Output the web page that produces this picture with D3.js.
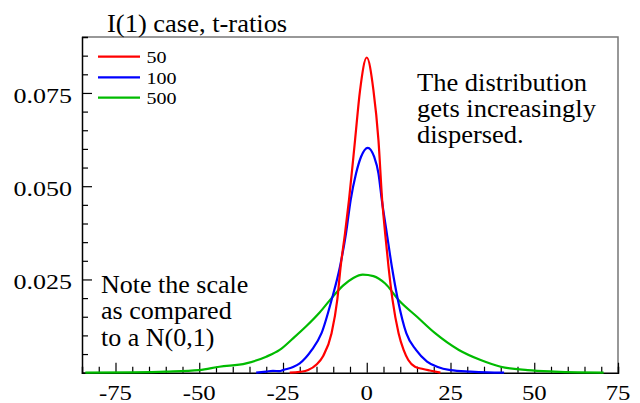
<!DOCTYPE html>
<html>
<head>
<meta charset="utf-8">
<script src="https://cdn.jsdelivr.net/npm/d3@7"></script>
<style>
  html, body { margin: 0; padding: 0; background: #fff; }
  svg { display: block; }
  svg text { font-family: "Liberation Serif", "Times New Roman", Times, "DejaVu Serif", serif; }
</style>
</head>
<body>
<svg id="chart" width="640" height="403"></svg>
<script>
// ---------- data ----------
const seriesNames = ["50", "100", "500"];
const seriesColors = ["#ff0000", "#0000ff", "#00bb00"];

const x50 = [-23, -20, -17.5, -15, -13, -10.5, -8.8, -7.8, -6.5, -5.3, -3.5, -2.0, 0, 2.0, 3.5, 4.6, 5.5, 6.5, 7.7, 9.5, 11, 12.4, 14.4, 16.8, 18.8, 22];
const y50 = [0, 0.0002, 0.0007, 0.0022, 0.0045, 0.0106, 0.0195, 0.0284, 0.0373, 0.0463, 0.0623, 0.0757, 0.0845, 0.0757, 0.0623, 0.0463, 0.0373, 0.0284, 0.0195, 0.0106, 0.0061, 0.0034, 0.0016, 0.0010, 0.0006, 0];

const x100 = [-33, -30, -28, -26, -25, -22, -20, -16.4, -13.5, -10.5, -8.0, -6.2, -4.8, -3.2, -1.7, 0.3, 2.2, 3.5, 4.5, 6.0, 7.5, 9.3, 11.8, 14.7, 18, 21, 25, 31, 36, 41];
const y100 = [0, 0.0003, 0.0005, 0.0004, 0.0007, 0.0015, 0.0025, 0.0061, 0.0106, 0.0195, 0.0284, 0.0373, 0.0463, 0.0534, 0.0579, 0.0603, 0.0579, 0.0534, 0.0463, 0.0373, 0.0284, 0.0195, 0.0106, 0.0061, 0.0030, 0.0016, 0.0007, 0.0003, 0.0001, 0];

const x500 = [-84, -70, -60, -50, -44, -36, -30, -26, -22, -18, -14, -10.5, -7, -4, -1.2, 2, 5.5, 9.5, 15, 20.4, 27.5, 34, 40, 48, 56, 63, 70.7];
const y500 = [0, 0.0001, 0.0003, 0.0007, 0.0016, 0.0025, 0.0043, 0.0061, 0.0092, 0.0125, 0.0162, 0.0200, 0.0234, 0.0254, 0.0263, 0.0259, 0.0239, 0.0195, 0.0150, 0.0106, 0.0061, 0.0034, 0.0016, 0.0007, 0.0003, 0.0001, 0];

const xMajorTicks = [-75, -50, -25, 0, 25, 50, 75];
const xTickLabels = ["-75", "-50", "-25", "0", "25", "50", "75"];
const xMinorTicks = d3.range(-80, 75, 5).filter(v => v % 25 !== 0);
const yMajorTicks = [0.025, 0.05, 0.075];
const yTickLabels = ["0.025", "0.050", "0.075"];
const yMinorTicks = [0.005, 0.01, 0.015, 0.02, 0.03, 0.035, 0.04, 0.045, 0.055, 0.06, 0.065, 0.07, 0.08, 0.085];

const titleText = "I(1) case, t-ratios";
const noteRight = ["The distribution", "gets increasingly", "dispersed."];
const noteLeft = ["Note the scale", "as compared", "to a N(0,1)"];

// ---------- layout ----------
const L = 82, R = 618, T = 37, B = 372.7;
const FONT = '"Liberation Serif", "Times New Roman", Times, "DejaVu Serif", serif';
const svg = d3.select("#chart");
const x = d3.scaleLinear().domain([-85, 75]).range([L, R]);
const y = d3.scaleLinear().domain([0, 0.09]).range([B, T]);

function addText(sel, px, py, str, size, sx, anchor) {
  return sel.append("text")
    .attr("transform", `translate(${px},${py}) scale(${sx},1)`)
    .attr("text-anchor", anchor || "start")
    .attr("font-family", FONT)
    .style("font-family", FONT)
    .attr("font-size", size)
    .attr("fill", "#000")
    .text(str);
}

// frame top/right (grey)
svg.append("path")
  .attr("d", `M${L},${T}H${R}V${B}`)
  .attr("fill", "none").attr("stroke", "#777").attr("stroke-width", 1.5);

// axes
const gx = svg.append("g").attr("transform", `translate(0,${B})`);
gx.call(d3.axisTop(x).tickValues(xMajorTicks).tickSize(10).tickFormat(""));
gx.append("g").call(d3.axisTop(x).tickValues(xMinorTicks).tickSize(6).tickFormat(""));
gx.selectAll("path.domain").attr("stroke", "#000").attr("stroke-width", 1.5);
gx.selectAll(".tick line").attr("stroke", "#000").attr("stroke-width", 1.2);
gx.select("g path.domain").remove();

const gy = svg.append("g").attr("transform", `translate(${L},0)`);
gy.call(d3.axisRight(y).tickValues(yMajorTicks).tickSize(10).tickFormat(""));
gy.append("g").call(d3.axisRight(y).tickValues(yMinorTicks).tickSize(6).tickFormat(""));
gy.selectAll("path.domain").attr("stroke", "#000").attr("stroke-width", 1.5);
gy.selectAll(".tick line").attr("stroke", "#000").attr("stroke-width", 1.2);
gy.select("g path.domain").remove();

// tick labels
xMajorTicks.forEach((v, i) => addText(svg, x(v), 399.5, xTickLabels[i], 21, 1.18, "middle"));
yMajorTicks.forEach((v, i) => addText(svg, 72, y(v) + 9.6, yTickLabels[i], 21, 1.24, "end"));

// curves
const seriesX = [x50, x100, x500];
const seriesY = [y50, y100, y500];
const line = d3.line().x(d => x(d[0])).y(d => y(d[1])).curve(d3.curveMonotoneX);
const plot = svg.append("g");
[2, 1, 0].forEach(i => {
  const pts = seriesX[i].map((v, j) => [v, seriesY[i][j]]);
  plot.append("path").datum(pts)
    .attr("d", line)
    .attr("fill", "none")
    .attr("stroke", seriesColors[i])
    .attr("stroke-width", 2.2)
    .attr("stroke-linejoin", "round");
});

// legend
const legY = [56.7, 77.3, 97.7];
seriesNames.forEach((n, i) => {
  svg.append("line").attr("x1", 98).attr("x2", 140).attr("y1", legY[i]).attr("y2", legY[i])
    .attr("stroke", seriesColors[i]).attr("stroke-width", 2.2);
  addText(svg, 146.5, legY[i] + 6.6, n, 17, 1.18, "start");
});

// title
addText(svg, 107, 31.5, titleText, 25, 1.06, "start");

// annotations
noteRight.forEach((s, i) => addText(svg, 417, 90.7 + i * 26.3, s, 26, 1.02, "start"));
noteLeft.forEach((s, i) => addText(svg, 101, 292.7 + i * 26.6, s, 26, 1.0, "start"));
</script>
</body>
</html>
